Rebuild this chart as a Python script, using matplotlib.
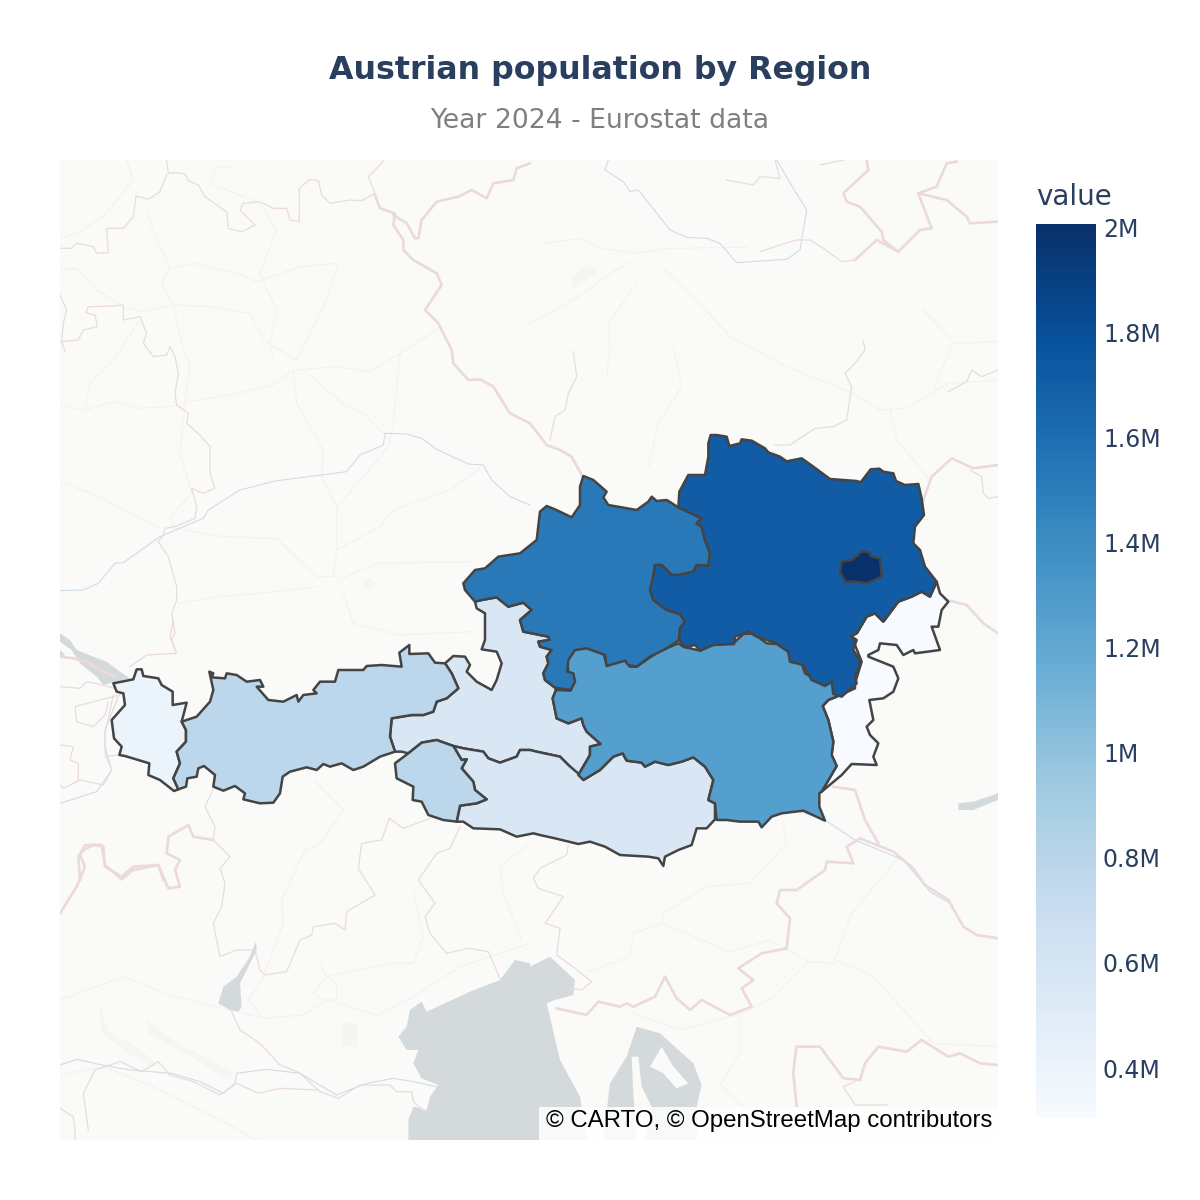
import numpy as np
import matplotlib
matplotlib.use("Agg")
import matplotlib.pyplot as plt
from matplotlib.patches import Polygon, Rectangle
from matplotlib.colors import Normalize

# ----------------DATA----------------------------------------------------------

regions = ["Burgenland", "Vorarlberg", "Salzburg", "Carinthia", "Tyrol",
           "Styria", "Upper Austria", "Lower Austria", "Vienna"]
population = [0.305, 0.41, 0.57, 0.57, 0.79, 1.27, 1.53, 1.72, 2.006]   # millions
cbar_ticks = [0.4, 0.6, 0.8, 1.0, 1.2, 1.4, 1.6, 1.8, 2.0]
cbar_labels = ["0.4M", "0.6M", "0.8M", "1M", "1.2M", "1.4M", "1.6M", "1.8M", "2M"]


# outlines were traced on 3x crops of the map, crop() brings them back to map units
def crop(x0, y0, pts):
    return [(x0 + x / 3, y0 + y / 3) for x, y in pts]


lower_austria = crop(440, 420, [
    (805, 70), (812, 45), (830, 45), (860, 50), (868, 78), (900, 70), (905, 58), (935, 62), (975, 85),
    (985, 97), (1020, 110), (1040, 124), (1060, 120), (1085, 115), (1120, 140), (1170, 177), (1250, 183),
    (1262, 187), (1292, 148), (1318, 146), (1330, 155), (1360, 160), (1368, 183), (1395, 195), (1435, 192),
    (1445, 235), (1452, 285), (1425, 320), (1420, 370), (1440, 390), (1455, 440), (1490, 485), (1470, 530),
    (1445, 515), (1415, 530), (1375, 545), (1330, 605), (1305, 580), (1280, 590), (1250, 640), (1232, 650),
    (1245, 660), (1240, 690), (1262, 725), (1245, 770), (1250, 790), (1205, 830), (1180, 822), (1175, 785),
    (1155, 798), (1115, 780), (1090, 735), (1050, 725), (1045, 695), (1010, 670), (950, 650), (925, 635),
    (885, 650), (882, 672), (820, 675), (780, 692), (765, 675), (735, 682), (717, 660), (720, 625), (735, 605),
    (720, 582), (680, 570), (640, 540), (630, 510), (640, 470), (645, 435), (665, 435), (695, 465), (715, 465),
    (760, 455), (770, 435), (805, 438), (810, 400), (795, 360), (785, 320), (770, 310), (785, 295), (715, 262),
    (718, 215), (745, 165), (795, 165), (805, 110)])

vienna = crop(440, 420, [
    (1205, 425), (1235, 420), (1265, 395), (1285, 395), (1295, 410), (1320, 415), (1325, 470), (1280, 490),
    (1245, 485), (1215, 485), (1200, 455)])

upper_austria = crop(440, 420, [
    (70, 490), (105, 450), (135, 445), (175, 410), (240, 400), (290, 360), (300, 275), (320, 258), (345, 268),
    (395, 292), (420, 255), (420, 200), (430, 168), (460, 180), (500, 215), (490, 232), (505, 255), (590, 270),
    (625, 245), (635, 230), (650, 243), (680, 240), (715, 262), (785, 295), (770, 310), (785, 320), (795, 360),
    (810, 400), (805, 438), (770, 435), (760, 455), (715, 465), (695, 465), (665, 435), (645, 435), (640, 470),
    (630, 510), (640, 540), (680, 570), (720, 582), (735, 605), (720, 625), (717, 660), (680, 685), (630, 710),
    (590, 740), (565, 735), (555, 722), (500, 738), (495, 705), (440, 685), (405, 690), (385, 720), (382, 755),
    (400, 760), (405, 785), (392, 810), (345, 803), (315, 780), (310, 760), (325, 730), (320, 710), (335, 690),
    (300, 680), (295, 665), (328, 660), (325, 650), (250, 635), (240, 600), (275, 570), (250, 548), (205, 560),
    (170, 532), (125, 540), (105, 545), (75, 510)])

salzburg = (
    crop(440, 420, [
        (105, 545), (125, 540), (170, 532), (205, 560), (250, 548), (275, 570), (240, 600), (250, 635), (325, 650),
        (328, 660), (295, 665), (300, 680), (335, 690), (320, 710), (325, 730), (310, 760), (315, 780), (345, 803)])
    + crop(540, 620, [
        (48, 210), (38, 235), (50, 295), (85, 310), (125, 295), (130, 315), (140, 335), (182, 372), (150, 380),
        (150, 405), (115, 465)])
    + crop(100, 640, [
        (1405, 375), (1380, 350), (1310, 335), (1290, 330), (1260, 330), (1250, 350), (1200, 368), (1165, 355),
        (1150, 335), (1090, 325), (1060, 318), (1010, 300), (965, 308), (925, 340), (905, 335), (885, 335),
        (870, 290), (875, 235), (935, 225), (970, 225), (1000, 215), (1010, 185), (1040, 175), (1075, 145),
        (1055, 100), (1035, 70), (1060, 48), (1095, 50), (1110, 75), (1100, 95), (1130, 125), (1175, 150),
        (1190, 120), (1205, 70), (1190, 35), (1145, 28), (1155, 0)])
    + crop(440, 420, [(135, 580), (110, 565)]))

tyrol = crop(100, 640, [
    (245, 245), (290, 230), (330, 185), (340, 150), (328, 95), (340, 100), (335, 112), (375, 115), (380, 100),
    (410, 105), (440, 125), (480, 120), (490, 140), (470, 140), (505, 180), (550, 185), (590, 165), (595, 185),
    (610, 165), (650, 160), (640, 150), (660, 125), (705, 125), (715, 90), (790, 90), (800, 78), (845, 75),
    (905, 80), (898, 38), (928, 15), (928, 42), (985, 40), (1005, 68), (1035, 70), (1055, 100), (1075, 145),
    (1040, 175), (1010, 185), (1000, 215), (970, 225), (935, 225), (875, 235), (870, 290), (885, 335), (840, 350),
    (790, 380), (760, 390), (725, 370), (690, 380), (670, 372), (650, 390), (620, 382), (570, 395), (548, 410),
    (540, 460), (520, 488), (480, 490), (430, 478), (435, 460), (405, 438), (370, 452), (340, 440), (345, 405),
    (312, 378), (295, 385), (290, 410), (262, 415), (258, 440), (235, 448), (220, 415), (240, 370), (230, 335),
    (258, 305), (258, 270)])

east_tyrol = crop(100, 640, [
    (925, 340), (965, 308), (1010, 300), (1060, 318), (1085, 360), (1100, 358), (1085, 385), (1120, 425),
    (1125, 450), (1160, 478), (1130, 490), (1080, 497), (1070, 545), (1030, 540), (985, 525), (965, 485),
    (938, 480), (940, 440), (890, 415), (885, 370)])

vorarlberg = crop(100, 640, [
    (40, 130), (100, 118), (110, 88), (125, 88), (130, 108), (175, 115), (185, 135), (218, 155), (218, 195),
    (260, 188), (245, 245), (258, 270), (258, 305), (230, 335), (240, 370), (220, 415), (235, 448), (222, 453),
    (180, 420), (145, 405), (148, 370), (75, 348), (58, 345), (65, 320), (42, 295), (35, 240), (75, 195),
    (70, 160), (50, 155)])

carinthia = (
    crop(100, 640, [
        (1070, 545), (1080, 497), (1130, 490), (1160, 478), (1125, 450), (1120, 425), (1085, 385), (1100, 358),
        (1085, 360), (1060, 318), (1090, 325), (1150, 335), (1165, 355), (1200, 368), (1250, 350), (1260, 330),
        (1290, 330), (1310, 335), (1380, 350), (1405, 375), (1440, 405)])
    + crop(540, 620, [
        (130, 480), (180, 450), (220, 410), (248, 400), (260, 422), (305, 428), (315, 440), (345, 425), (385, 435),
        (425, 425), (460, 412), (495, 440), (520, 480), (505, 540), (525, 550), (525, 598), (500, 625), (470, 625),
        (455, 675), (415, 690), (375, 710), (370, 738), (355, 715), (325, 710), (240, 705), (195, 680), (150, 665),
        (115, 672), (45, 655), (0, 645)])
    + crop(100, 640, [(1300, 580), (1250, 590), (1200, 568), (1120, 565), (1090, 545)]))

styria = crop(540, 620, [
    (115, 465), (150, 405), (150, 380), (182, 372), (140, 335), (130, 315), (125, 295), (85, 310), (50, 295),
    (38, 235), (48, 210), (92, 212), (105, 180), (85, 155), (80, 115), (105, 88), (135, 83), (190, 97), (200, 135),
    (255, 120), (270, 140), (290, 140), (355, 95), (415, 70), (430, 80), (480, 92), (520, 70), (580, 70), (610, 42),
    (640, 40), (680, 70), (710, 72), (745, 95), (752, 125), (785, 130), (795, 160), (855, 195), (875, 185),
    (890, 230), (865, 240), (848, 258), (865, 300), (880, 365), (875, 405), (890, 438), (845, 515), (838, 520),
    (838, 560), (855, 602), (790, 572), (725, 580), (695, 590), (665, 622), (655, 605), (600, 605), (560, 600),
    (530, 600), (525, 550), (505, 540), (520, 480), (495, 440), (460, 412), (425, 425), (385, 435), (345, 425),
    (315, 440), (305, 428), (260, 422), (248, 400), (220, 410), (180, 450), (130, 480)])

burgenland = (
    crop(440, 420, [
        (1490, 485), (1500, 520), (1525, 545), (1505, 570), (1495, 620), (1475, 620), (1500, 690), (1425, 700),
        (1420, 690), (1390, 705), (1370, 675), (1320, 670), (1315, 690), (1285, 705)])
    + crop(540, 620, [
        (985, 110), (1060, 140), (1075, 175), (1060, 215), (1030, 235), (988, 240), (1000, 300), (980, 320),
        (990, 345), (1015, 370), (1000, 410), (1010, 435), (935, 432), (905, 465), (845, 515), (890, 438),
        (875, 405), (880, 365), (865, 300), (848, 258), (865, 240), (890, 230), (945, 205), (945, 190), (965, 125),
        (945, 75), (950, 60), (935, 50), (945, 40), (970, 5)])
    + crop(440, 420, [
        (1250, 640), (1280, 590), (1305, 580), (1330, 605), (1375, 545), (1415, 530), (1445, 515), (1470, 530)]))

region_shapes = [burgenland, vorarlberg, salzburg, carinthia, tyrol, styria, upper_austria, lower_austria, vienna]

# basemap: water
water = [
    crop(60, 780, [(1320, 600), (1365, 540), (1410, 550), (1410, 1080), (1045, 1080), (1045, 1020), (1060, 980),
                   (1100, 990), (1110, 950), (1135, 915), (1085, 895), (1060, 850), (1075, 810), (1040, 810),
                   (1015, 770), (1040, 740), (1050, 690), (1085, 665), (1100, 695), (1230, 635)]),
    crop(60, 780, [(588, 485), (590, 510), (540, 610), (545, 680), (535, 695), (510, 690), (475, 670), (490, 620),
                   (530, 590), (570, 530)]),
    crop(530, 780, [(0, 560), (60, 530), (135, 600), (130, 645), (75, 660), (50, 670), (90, 840), (150, 950),
                    (170, 1080), (0, 1080)]),
    crop(530, 780, [(220, 1080), (240, 910), (290, 830), (320, 740), (390, 760), (490, 850), (515, 915), (500, 980),
                    (500, 1080)]),
    crop(530, 780, [(1285, 70), (1330, 65), (1404, 40), (1404, 60), (1330, 90), (1285, 90)]),
    crop(60, 620, [(0, 40), (30, 60), (50, 90), (100, 110), (140, 125), (180, 155), (210, 175), (130, 195),
                   (110, 170), (60, 130), (35, 90), (0, 65)]),
    crop(60, 620, [(0, 90), (15, 105), (0, 110)]),
]
islands = [
    crop(530, 780, [(305, 830), (325, 830), (335, 920), (365, 980), (345, 1080), (320, 1080), (310, 940)]),
    crop(530, 780, [(360, 860), (395, 800), (430, 860), (475, 910), (440, 925), (400, 880)]),
]
green_patches = [
    crop(530, 160, [(125, 350), (175, 310), (205, 335), (165, 365), (125, 385)]),
    crop(60, 160, [(912, 1265), (930, 1252), (948, 1270), (930, 1292), (912, 1282)]),
    crop(60, 780, [(845, 730), (890, 730), (890, 800), (845, 800)]),
    crop(60, 780, [(120, 680), (145, 755), (230, 800), (290, 850), (270, 860), (190, 810), (125, 760)]),
    crop(60, 780, [(260, 720), (340, 780), (430, 830), (525, 880), (500, 895), (400, 835), (265, 760)]),
]

# basemap: country borders, thick ones then thin ones
borders_thick = [
    crop(60, 160, [(945, 105), (960, 145), (1005, 160), (1000, 195), (1030, 240), (1030, 270), (1060, 300),
                   (1130, 340), (1145, 375), (1095, 450), (1135, 490), (1175, 570), (1180, 610), (1225, 660),
                   (1260, 658), (1300, 680), (1350, 760), (1410, 790)]),
    crop(60, 160, [(1000, 165), (1040, 190), (1065, 235), (1075, 235), (1085, 180), (1130, 125), (1195, 110),
                   (1235, 90), (1280, 115), (1300, 70), (1360, 60), (1370, 25), (1410, 10)]),
    crop(530, 160, [(0, 790), (50, 855), (90, 870), (125, 890), (155, 945)]),
    crop(530, 160, [(1280, 5), (1250, 10), (1220, 80), (1165, 100), (1205, 205), (1170, 210), (1105, 275),
                    (1040, 240), (975, 300)]),
    crop(530, 160, [(1010, 0), (1015, 30), (940, 100), (950, 125), (990, 140), (1055, 215), (1060, 240), (1105, 275)]),
    crop(530, 160, [(1165, 100), (1250, 120), (1310, 170), (1320, 190), (1404, 185)]),
    crop(530, 160, [(1180, 1020), (1205, 950), (1265, 895), (1330, 925), (1404, 915)]),
    crop(530, 160, [(1250, 1320), (1310, 1335), (1360, 1390), (1404, 1420)]),
    crop(60, 780, [(0, 400), (50, 320), (75, 260), (60, 225), (75, 195), (125, 195), (135, 255), (185, 298),
                   (220, 270), (295, 255), (325, 325), (360, 320), (345, 270), (360, 240), (320, 220), (325, 170),
                   (385, 135), (400, 170), (460, 180)]),
    crop(530, 780, [(80, 685), (170, 705), (205, 665), (270, 680), (290, 670), (310, 680), (375, 650), (405, 590),
                    (440, 655), (480, 690), (515, 660), (600, 705), (665, 680), (635, 625), (670, 600), (625, 565),
                    (695, 520), (770, 505), (780, 415), (740, 370), (750, 330), (800, 330), (885, 270), (890, 245),
                    (970, 250), (950, 200), (990, 175), (1090, 215), (1150, 265), (1185, 315), (1255, 360),
                    (1300, 440), (1340, 465), (1404, 475)]),
    crop(530, 780, [(910, 20), (975, 30), (1005, 120), (1045, 190)]),
    crop(530, 780, [(800, 980), (790, 880), (795, 830), (800, 800), (870, 800), (940, 895), (990, 900), (1005, 850),
                    (1045, 800), (1130, 815), (1175, 780), (1255, 830), (1290, 820), (1350, 850), (1404, 855)]),
    crop(60, 620, [(60, 780), (55, 710), (70, 690), (100, 675), (130, 680), (135, 740), (185, 770), (220, 740),
                   (295, 735), (310, 780)]),
    crop(60, 620, [(0, 110), (40, 115), (80, 125), (130, 155), (170, 170)]),
]
borders_thin = [
    crop(60, 160, [(320, 0), (325, 40), (345, 38), (375, 42), (385, 62), (415, 75), (435, 110), (470, 135), (500, 155),
                   (505, 205), (545, 215), (585, 195), (540, 150), (550, 130), (600, 125), (640, 145), (680, 145),
                   (690, 180), (718, 185), (718, 85), (750, 58), (775, 62), (785, 105), (810, 130), (870, 120),
                   (905, 122), (945, 100), (925, 50), (965, 10), (970, 0)]),
    crop(60, 160, [(0, 265), (35, 265), (50, 250), (100, 260), (110, 280), (145, 278), (140, 205), (190, 205),
                   (220, 170), (228, 108), (265, 118), (300, 95), (320, 45)]),
    crop(60, 160, [(0, 405), (20, 450), (10, 490), (5, 545), (15, 575)]),
    crop(60, 160, [(0, 545), (55, 540), (70, 510), (112, 500), (105, 465), (78, 458), (85, 440), (160, 438),
                   (190, 435), (190, 480), (240, 470), (260, 520), (250, 550), (280, 590), (320, 585), (330, 560),
                   (345, 590), (355, 640), (345, 700), (350, 735), (385, 760), (380, 790), (420, 825), (450, 860),
                   (450, 940), (465, 985), (430, 1000), (395, 985), (410, 1040), (405, 1075), (345, 1100), (315, 1105),
                   (310, 1125), (295, 1145), (325, 1190), (350, 1280), (350, 1320), (335, 1360), (345, 1420),
                   (335, 1435), (345, 1470)]),
    crop(530, 160, [(975, 300), (935, 305), (880, 265), (840, 240), (800, 240), (750, 255), (690, 275)]),
    crop(530, 160, [(590, 60), (670, 75), (690, 50), (750, 55), (735, 0)]),
    crop(530, 160, [(870, 15), (940, 0)]),
    crop(530, 160, [(130, 575), (140, 650), (115, 700), (105, 750), (75, 770), (60, 840)]),
    crop(530, 160, [(1000, 545), (1005, 570), (975, 610), (945, 640), (965, 680), (950, 780), (910, 800), (855, 805),
                    (780, 855), (735, 855)]),
    crop(530, 160, [(1255, 695), (1310, 665), (1325, 630), (1355, 650), (1404, 630)]),
    crop(530, 160, [(1320, 930), (1355, 950), (1360, 1000), (1375, 1015), (1404, 1010)]),
    crop(60, 780, [(458, 30), (435, 80), (465, 140), (460, 180), (510, 230), (480, 265), (495, 310), (485, 380),
                   (460, 430), (480, 530), (530, 510), (585, 510), (600, 570), (615, 585), (680, 575), (720, 480),
                   (755, 465), (760, 440), (825, 430), (855, 450), (860, 395), (945, 345), (895, 265), (905, 190),
                   (965, 180), (988, 115), (1030, 145), (1110, 115)]),
    crop(60, 780, [(1200, 140), (1170, 205), (1130, 220), (1075, 300), (1125, 370), (1095, 410), (1110, 460),
                   (1160, 520), (1225, 505), (1285, 515), (1320, 595)]),
    crop(60, 780, [(515, 695), (540, 750), (600, 790), (660, 855), (700, 870), (720, 880), (780, 935), (835, 955),
                   (900, 915), (990, 915), (1010, 935), (1055, 935), (1060, 965), (1095, 995)]),
    crop(60, 780, [(45, 1080), (45, 1050), (40, 1010), (0, 985)]),
    crop(60, 780, [(85, 1050), (70, 940), (105, 870), (180, 845), (245, 875), (295, 845), (330, 885), (400, 905),
                   (480, 945), (530, 910), (595, 940), (660, 925), (775, 930)]),
    crop(530, 780, [(115, 195), (110, 225), (30, 265), (10, 295), (25, 325), (100, 350), (45, 430), (90, 445),
                    (80, 525), (135, 565), (185, 605), (155, 630), (125, 625)]),
    crop(530, 780, [(975, 905), (940, 920), (975, 975), (1070, 975)]),
    crop(60, 620, [(0, 200), (60, 205), (80, 185), (130, 195), (160, 205)]),
    crop(60, 620, [(180, 225), (120, 240), (45, 260), (50, 305), (100, 320), (135, 285), (145, 245)]),
    crop(60, 620, [(160, 225), (135, 340), (135, 400), (155, 450), (130, 495), (60, 480), (10, 505), (0, 495)]),
    crop(60, 620, [(0, 375), (40, 380), (30, 420), (55, 430), (55, 480)]),
    crop(60, 620, [(135, 410), (175, 405)]),
    crop(60, 620, [(210, 140), (260, 105), (350, 100), (330, 50), (340, 0)]),
]

# basemap: rivers
rivers = [
    crop(60, 160, [(0, 1292), (70, 1290), (115, 1270), (165, 1210), (190, 1208), (300, 1130), (430, 1075), (445, 1050),
                   (540, 990), (645, 963), (860, 935), (900, 885), (970, 855), (975, 820), (1040, 822), (1085, 835),
                   (1130, 868), (1225, 912), (1270, 915), (1295, 960), (1350, 1010), (1410, 1035)]),
    crop(530, 160, [(235, 0), (225, 30), (280, 65), (300, 95), (325, 90), (420, 210), (470, 232), (530, 235),
                    (570, 250), (620, 308), (770, 298), (810, 270), (830, 150), (790, 85), (740, 0)]),
    crop(530, 780, [(810, 95), (885, 120), (975, 180), (1120, 240), (1200, 335), (1260, 370)]),
    crop(60, 780, [(0, 855), (50, 838), (125, 855), (210, 870), (335, 880), (420, 905), (490, 940), (525, 910),
                   (530, 880), (620, 868), (720, 880), (830, 945), (920, 910), (1000, 895), (1060, 905), (1130, 920)]),
    crop(60, 620, [(0, 550), (110, 515), (155, 450), (135, 380), (135, 330), (175, 230)]),
]

# basemap: main roads
roads = [
    crop(60, 160, [(200, 0), (220, 60), (130, 170), (50, 220), (0, 235)]),
    crop(60, 160, [(260, 155), (290, 240), (330, 320), (305, 370), (340, 435), (365, 550), (390, 620), (375, 720),
                   (360, 880), (395, 1000), (330, 1070), (345, 1100)]),
    crop(60, 160, [(0, 330), (50, 325), (110, 390), (190, 440), (250, 455), (335, 435), (450, 440), (570, 460),
                   (610, 540), (710, 600), (800, 420), (835, 310), (720, 320), (590, 365), (530, 340), (400, 310),
                   (330, 325)]),
    crop(60, 160, [(520, 20), (470, 20), (450, 70), (600, 130), (650, 210), (600, 340), (650, 450), (630, 550),
                   (640, 595)]),
    crop(60, 160, [(0, 735), (75, 750), (160, 725), (240, 745), (345, 738)]),
    crop(60, 160, [(75, 750), (90, 670), (160, 600), (240, 480)]),
    crop(60, 160, [(380, 725), (510, 705), (640, 675), (700, 630), (830, 620), (930, 635), (1020, 580), (1130, 510)]),
    crop(60, 160, [(700, 630), (710, 730), (790, 870), (785, 950), (830, 1040), (830, 1170), (820, 1250), (770, 1250),
                   (650, 1135), (490, 1130), (345, 1105)]),
    crop(60, 160, [(730, 630), (860, 740), (910, 760), (990, 840)]),
    crop(60, 160, [(1020, 580), (1000, 790), (985, 860), (850, 1020), (830, 1040)]),
    crop(60, 160, [(830, 1170), (960, 1100), (1000, 1050), (1170, 990), (1260, 925)]),
    crop(60, 160, [(770, 1280), (600, 1300), (470, 1310), (355, 1330)]),
    crop(60, 160, [(0, 965), (130, 1015), (190, 1050), (300, 1105)]),
    crop(60, 160, [(835, 1260), (950, 1210), (1240, 1205)]),
    crop(60, 160, [(850, 1300), (880, 1390), (1020, 1425), (1240, 1415)]),
    crop(530, 160, [(45, 250), (150, 235), (220, 265), (310, 280), (420, 265), (650, 262)]),
    crop(530, 160, [(310, 300), (240, 340), (130, 420), (20, 480), (0, 490)]),
    crop(530, 160, [(400, 325), (500, 420), (600, 530), (780, 625), (960, 695), (1050, 750), (1130, 745), (1255, 670),
                    (1404, 660)]),
    crop(530, 160, [(320, 370), (235, 490), (240, 560), (230, 655)]),
    crop(530, 160, [(430, 560), (455, 680), (385, 790), (355, 920)]),
    crop(530, 160, [(1080, 750), (1100, 840), (1200, 960)]),
    crop(530, 160, [(1175, 445), (1270, 545), (1210, 690)]),
    crop(530, 160, [(1270, 550), (1404, 545)]),
    crop(530, 780, [(760, 130), (770, 190), (660, 310), (530, 320), (400, 400), (395, 430), (600, 515), (720, 480),
                    (835, 545), (910, 550), (965, 400), (1100, 240)]),
    crop(530, 780, [(395, 430), (310, 460), (300, 530), (175, 575)]),
    crop(530, 780, [(835, 545), (730, 650), (640, 700), (450, 750), (310, 700)]),
    crop(530, 780, [(910, 535), (1030, 590), (1130, 700), (1210, 790), (1404, 800)]),
    crop(530, 780, [(630, 710), (630, 820), (570, 915), (640, 980)]),
    crop(60, 780, [(760, 0), (850, 90), (780, 190), (735, 210), (665, 360), (670, 430), (610, 590), (565, 660), (605, 710)]),
    crop(60, 780, [(0, 660), (190, 590), (330, 645), (610, 715), (730, 705), (800, 660), (950, 705), (1060, 650),
                   (1200, 560), (1410, 490)]),
    crop(60, 780, [(780, 550), (800, 590), (990, 550), (1060, 550), (1090, 470), (1060, 335)]),
    crop(60, 780, [(800, 590), (760, 640), (790, 660), (830, 660), (830, 610), (800, 590)]),
    crop(60, 780, [(0, 885), (130, 860), (280, 920), (500, 1030), (590, 1080)]),
    crop(60, 780, [(1410, 190), (1320, 260), (1330, 340), (1385, 480)]),
]

colorscale = "Blues"
vmin = min(population)
vmax = max(population)

# ----------------PLOT----------------------------------------------------------

W, H = 1200, 1200
fig = plt.figure(figsize=(12, 12), dpi=100, facecolor="white")

ax = fig.add_axes([60 / W, 1 - 1140 / H, 938 / W, 980 / H])
ax.set_xlim(60, 998)
ax.set_ylim(1140, 160)
ax.set_facecolor("#fafaf8")
ax.set_xticks([])
ax.set_yticks([])
for s in ax.spines.values():
    s.set_visible(False)

for shape in green_patches:
    ax.add_patch(Polygon(shape, closed=True, fc="#f5f6f3", ec="none", zorder=1))
for line in roads:
    xs, ys = zip(*line)
    ax.plot(xs, ys, color="#f2f2f1", lw=0.8, zorder=2)
for line in rivers:
    xs, ys = zip(*line)
    ax.plot(xs, ys, color="#cfdde5", lw=0.8, zorder=3)
for shape in water:
    ax.add_patch(Polygon(shape, closed=True, fc="#d4dadc", ec="none", zorder=4))
for shape in islands:
    ax.add_patch(Polygon(shape, closed=True, fc="#fafaf8", ec="none", zorder=5))
for line in borders_thin:
    xs, ys = zip(*line)
    ax.plot(xs, ys, color="#ecdadc", lw=0.9, zorder=6)
for line in borders_thick:
    xs, ys = zip(*line)
    ax.plot(xs, ys, color="#ecd9dc", lw=1.9, zorder=6)

cmap = plt.get_cmap(colorscale)
norm = Normalize(vmin=vmin, vmax=vmax)
for shape, value in zip(region_shapes, population):
    ax.add_patch(Polygon(shape, closed=True, fc=cmap(norm(value)), ec="#444444", lw=1.8,
                         joinstyle="round", zorder=10))
# East Tyrol belongs to Tyrol, drawn on top of Carinthia
ax.add_patch(Polygon(east_tyrol, closed=True, fc=cmap(norm(population[regions.index("Tyrol")])), ec="#444444",
                     lw=1.8, joinstyle="round", zorder=11))

# attribution
ax.add_patch(Rectangle((539, 1107), 459, 33, fc="white", ec="none", alpha=0.85, zorder=20))
ax.text(992, 1121.5, "\u00a9 CARTO, \u00a9 OpenStreetMap contributors", ha="right", va="center", fontsize=17.3,
        family="Liberation Sans", color="black", zorder=21)

# colorbar
cax = fig.add_axes([1036 / W, 1 - 1118 / H, 60 / W, 894 / H])
grad = np.linspace(vmin, vmax, 256).reshape(-1, 1)
cax.imshow(grad, aspect="auto", origin="lower", cmap=colorscale, norm=norm, extent=[0, 1, vmin, vmax])
cax.set_xticks([])
cax.yaxis.tick_right()
cax.set_yticks(cbar_ticks)
cax.set_yticklabels(cbar_labels, fontsize=17, color="#2a3f5f")
cax.tick_params(axis="y", length=0, pad=5)
for s in cax.spines.values():
    s.set_visible(False)

fig.text(1036 / W, 1 - 197 / H, "value", fontsize=20, color="#2a3f5f", ha="left", va="center")

# titles
fig.text(600 / W, 1 - 70 / H, "Austrian population by Region", fontsize=22.8, fontweight="bold", color="#2a3f5f",
         ha="center", va="center")
fig.text(600 / W, 1 - 121 / H, "Year 2024 - Eurostat data", fontsize=19.2, color="#7f7f7f", ha="center", va="center")

fig.savefig("out.png", dpi=100)
